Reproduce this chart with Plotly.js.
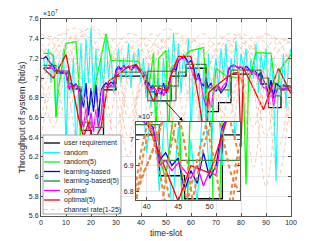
<!DOCTYPE html>
<html><head><meta charset="utf-8">
<script src="https://cdn.plot.ly/plotly-3.0.1.min.js"></script>
<style>html,body{margin:0;padding:0;background:#fff}#chart{width:321px;height:241px}</style>
</head><body><div id="chart"></div>
<script>
// time slots 1..100 (index axis)
var timeSlots = Array.from({length:100}, function(_, i){ return i + 1; });

// throughput values in units of 1e7 bit/s
var userRequirement = [
7.10,7.10,7.10,7.10,7.10,7.05,7.05,7.05,7.05,7.05,
6.89,6.89,6.89,6.89,6.89,6.47,6.47,6.47,6.47,6.42,
6.42,6.42,6.42,6.42,6.88,6.88,6.88,6.88,6.88,7.02,
7.02,7.02,7.02,7.02,7.02,7.02,7.02,7.02,7.02,7.02,
7.02,6.86,6.86,6.86,6.86,6.77,6.77,6.77,6.77,6.77,
6.77,7.02,7.02,7.02,7.02,7.02,7.02,7.10,7.10,7.10,
7.10,7.10,7.10,7.10,7.10,6.66,6.66,6.66,6.66,6.66,
6.75,6.75,6.75,6.75,6.75,7.04,7.04,7.04,7.04,7.04,
7.04,7.04,7.04,7.04,7.04,7.04,7.04,6.94,6.94,6.94,
6.70,6.70,6.70,6.70,6.70,6.88,6.88,6.88,6.88,6.88];

var randomRate = [
7.20,7.05,7.30,6.95,7.25,6.60,7.15,7.00,7.30,6.30,
7.10,6.85,7.20,6.20,6.90,7.35,6.70,7.40,6.95,7.51,
6.80,7.30,6.40,7.20,6.90,7.45,7.00,7.25,6.85,7.10,
7.30,6.95,7.20,7.00,7.35,6.90,7.25,7.05,7.30,6.95,
7.20,6.80,7.15,6.70,7.05,6.60,7.00,6.75,7.20,6.85,
7.30,6.90,7.46,7.00,7.35,6.85,7.25,7.05,7.40,6.40,
7.15,6.95,7.30,6.30,7.10,6.50,7.25,6.20,7.00,7.20,
6.90,7.30,7.00,7.35,6.80,7.20,7.05,7.38,6.95,7.25,
7.10,7.30,6.90,7.20,7.00,7.35,6.85,7.25,7.05,7.30,
6.80,7.20,6.90,5.95,7.10,6.85,7.25,6.70,7.15,7.30];

var random5Slots = [1,4,5,6,7,10,14,15,16,17,21,26,28,39,43,45,46,47,50,51,52,56,60,65,66,68,69,70,74,80,81,82,83,86,92,94,96,100];
var random5Rate  = [7.25,7.25,7.22,6.60,6.90,7.35,7.37,7.00,6.20,6.50,6.85,7.45,7.18,7.17,6.85,7.26,6.40,7.20,7.28,6.30,7.10,7.20,7.28,7.31,6.90,6.10,6.80,7.10,7.02,7.00,6.90,5.92,6.95,7.26,7.25,6.85,7.10,7.24];

var learningRate = [
7.20,7.22,7.18,7.15,7.12,7.06,7.08,7.05,7.07,7.04,
6.93,6.95,6.92,6.94,6.90,6.85,6.70,6.95,6.62,6.90,
6.66,6.93,6.60,6.88,6.92,6.95,6.93,6.96,6.94,7.08,
7.12,7.09,7.13,7.10,7.12,7.08,7.11,7.13,7.09,7.07,
7.05,6.92,6.95,6.90,6.93,6.80,6.88,6.83,6.95,6.85,
6.90,7.05,7.10,7.08,7.18,7.20,7.22,7.20,7.15,7.18,
7.12,6.98,7.05,6.95,6.92,6.98,6.90,6.95,6.88,6.87,
6.90,6.85,6.88,6.92,7.08,7.12,7.13,7.12,7.10,7.11,
7.09,7.12,7.10,7.05,7.08,7.06,7.02,7.06,6.98,6.92,
6.85,6.98,6.80,6.95,6.92,6.90,6.93,6.91,6.92,6.90];

var learning5Rate = [
7.13,7.13,7.13,7.13,7.13,7.07,7.07,7.07,7.07,7.07,
6.91,6.91,6.91,6.91,6.91,6.55,6.55,6.55,6.55,6.50,
6.50,6.50,6.50,6.50,6.91,6.91,6.91,6.91,6.91,7.06,
7.06,7.06,7.06,7.06,7.06,7.06,7.06,7.06,7.06,7.06,
7.06,6.92,6.92,6.92,6.92,6.92,6.92,6.92,6.92,6.92,
6.92,6.92,6.92,6.92,7.06,7.06,7.06,7.14,7.14,7.14,
7.14,7.14,7.14,7.14,7.14,6.90,6.90,6.90,6.90,6.90,
6.88,6.88,6.88,6.88,6.88,7.08,7.08,7.08,7.08,7.08,
7.08,7.08,7.08,7.08,7.08,7.08,7.08,7.00,7.00,7.00,
6.82,6.82,6.82,6.82,6.82,6.92,6.92,6.92,6.92,6.92];

var optimalRate = [
7.10,7.11,7.10,7.12,7.08,7.05,7.07,7.06,7.08,7.05,
6.90,6.92,6.91,6.93,6.90,6.60,6.50,6.70,6.48,6.65,
6.45,6.68,6.50,6.62,6.90,6.92,6.90,6.93,6.91,7.05,
7.10,7.08,7.12,7.10,7.12,7.09,7.10,7.12,7.08,7.06,
7.04,6.90,6.92,6.88,6.91,6.88,6.85,6.90,6.82,6.88,
6.86,7.04,7.10,7.12,7.18,7.20,7.20,7.18,7.15,7.10,
7.02,6.98,7.00,6.95,6.80,6.72,6.80,6.70,6.86,6.90,
6.92,6.88,6.93,6.95,7.10,7.12,7.13,7.12,7.11,7.12,
7.10,7.09,7.08,7.05,7.07,7.04,7.00,6.95,6.90,6.90,
6.75,6.92,6.72,6.85,6.90,6.88,6.90,6.89,6.90,6.88];

var optimal5Slots = [1,5,10,13,15,17,19,21,23,24,27,30,34,38,40,45,47,50,53,55,60,63,66,67,70,74,77,79,80,81,84,89,95,100];
var optimal5Rate  = [7.10,7.00,7.24,6.86,6.60,6.40,6.55,6.35,6.45,6.50,6.97,7.02,7.10,7.14,7.07,6.76,6.90,6.87,7.10,7.22,7.22,6.80,6.30,6.85,6.92,7.00,7.05,7.06,6.30,7.10,6.95,6.68,7.10,6.84];

var channelSlots = [0,5,10,15,20,25,30,35,40,45,50,55,60,65,70,75,80,85,90,95,100];
var channel1  = [6.9,7.3,7.48,7.5,7.35,7.0,6.3,7.0,7.35,7.45,7.3,6.9,6.2,6.9,7.3,7.45,7.4,7.1,6.4,7.0,7.3];
var channel2  = [7.3,7.1,6.6,7.0,7.3,7.42,7.35,7.05,6.5,7.1,7.38,7.45,7.3,6.9,6.1,6.9,7.3,7.42,7.35,7.05,6.6];
var channel3  = [6.4,7.0,7.3,7.42,7.4,7.2,6.8,6.2,7.0,7.3,7.4,7.3,7.0,6.4,7.0,7.3,7.45,7.35,6.9,6.0,6.9];
var channel4  = [7.45,7.35,7.0,6.3,7.0,7.3,7.4,7.35,7.1,6.6,7.05,7.3,7.4,7.3,6.95,6.2,7.0,7.3,7.44,7.38,7.1];
var channel5  = [7.0,6.5,7.1,7.38,7.52,7.45,7.2,6.7,6.9,7.25,7.4,7.35,7.1,6.5,6.9,7.2,7.35,7.3,7.0,6.3,7.0];
var channel6  = [7.2,7.4,7.45,7.3,6.9,6.1,6.9,7.25,7.4,7.35,7.0,6.3,7.0,7.3,7.42,7.38,7.1,6.5,7.1,7.35,7.4];
var channel7  = [6.8,7.15,7.35,7.45,7.5,7.4,7.15,6.6,6.9,7.2,7.32,7.2,6.8,7.0,7.25,7.38,7.3,6.9,5.9,6.8,7.2];
var channel8  = [7.35,7.2,6.9,7.15,7.3,7.25,6.95,6.4,7.05,7.35,7.5,7.44,7.25,6.8,7.1,7.35,7.42,7.2,6.7,7.1,7.3];
var channel9  = [7.1,7.3,7.32,7.1,6.5,7.0,7.3,7.45,7.4,7.1,6.4,7.0,7.35,7.45,7.3,6.9,6.3,7.0,7.3,7.4,7.35];
var channel10 = [6.6,7.05,7.25,7.3,7.2,6.9,7.2,7.38,7.3,6.95,6.1,6.95,7.25,7.35,7.25,6.8,7.1,7.35,7.45,7.3,6.9];
var channel11 = [7.4,7.42,7.3,7.0,6.4,7.0,7.25,7.3,7.15,6.7,7.1,7.35,7.4,7.25,6.8,6.6,7.15,7.3,7.2,6.9,6.5];
var channel12 = [7.0,7.25,7.4,7.38,7.2,6.7,6.5,7.05,7.28,7.35,7.2,6.8,6.9,7.2,7.35,7.3,7.0,6.1,7.0,7.28,7.38];
var channels = [channel1,channel2,channel3,channel4,channel5,channel6,channel7,channel8,channel9,channel10,channel11,channel12];

var legendNames = ['user requirement','random','random(5)','learning-based','learning-based(5)','optimal','optimal(5)','channel rate(1-25)'];
var mainTickVals = [5.6,5.8,6.0,6.2,6.4,6.6,6.8,7.0,7.2,7.4,7.6];
var mainTickText = ['5.6','5.8','6','6.2','6.4','6.6','6.8','7','7.2','7.4','7.6'];
var insetXTicks = [40,45,50];
var insetYTicks = [6.8,6.9,7.0];
var insetYText = ['6.8','6.9','7'];

var colors = ['#000000','#00FFFF','#00FF00','#0000FF','#238A3E','#FF00FF','#FF0000'];
var series = [
  {x: timeSlots, y: userRequirement, shape:'hv'},
  {x: timeSlots, y: randomRate, shape:'linear'},
  {x: random5Slots, y: random5Rate, shape:'linear'},
  {x: timeSlots, y: learningRate, shape:'linear'},
  {x: timeSlots, y: learning5Rate, shape:'hv'},
  {x: timeSlots, y: optimalRate, shape:'linear'},
  {x: optimal5Slots, y: optimal5Rate, shape:'linear'}
];

var traces = [];
function addAll(xa, ya, inset){
  series.forEach(function(s, i){
    traces.push({type:'scatter', mode:'lines', x:s.x, y:s.y, xaxis:xa, yaxis:ya,
      line:{color:colors[i], width: (i===1?1.1:1.3), shape:s.shape}, hoverinfo:'skip'});
  });
  channels.forEach(function(c){
    traces.push({type:'scatter', mode:'lines', x:channelSlots, y:c, xaxis:xa, yaxis:ya,
      line:{color: inset ? '#EA8544' : '#F6BC9E', width: inset ? 2 : 0.8, dash:'4px,3px', shape:'spline', smoothing:1},
      hoverinfo:'skip'});
  });
}
addAll('x','y',false);
addAll('x2','y2',true);

// legend (drawn manually to match compact spacing)
var shapes = [];
var annotations = [];
function px2x(px){ return (px-41)/250; }
function px2y(py){ return (216-py)/197; }
shapes.push({type:'rect', xref:'x2', yref:'y2', x0:38.3, x1:54.8, y0:6.765, y1:7.07, fillcolor:'#ffffff', line:{width:0}, layer:'below'});
shapes.push({type:'rect', xref:'x', yref:'y', x0:42.7, x1:54, y0:6.77, y1:7.07, line:{color:'#555555', width:1}, layer:'above'});
shapes.push({type:'rect', xref:'paper', yref:'paper', x0:px2x(43), x1:px2x(121), y0:px2y(214), y1:px2y(135), fillcolor:'#ffffff', line:{color:'#8c8c8c', width:0.8}, layer:'above'});
var legendY = [143,152.5,162,171.5,181,190.5,200,209.5];
legendNames.forEach(function(name, i){
  var yy = px2y(legendY[i]);
  var isCh = (i === 7);
  shapes.push({type:'line', xref:'paper', yref:'paper', x0:px2x(44), x1:px2x(60), y0:yy, y1:yy,
    line:{color: isCh ? '#F6BC9E' : colors[i], width: isCh ? 0.8 : 1.3, dash: isCh ? '4px,3px' : 'solid'}, layer:'above'});
  annotations.push({xref:'paper', yref:'paper', x:px2x(62), y:yy, xanchor:'left', yanchor:'middle', text:name,
    showarrow:false, font:{size:7, color:'#262626'}});
});
annotations.push({xref:'paper', yref:'paper', x:0, y:1, xanchor:'left', yanchor:'bottom', text:'×10<sup>7</sup>', showarrow:false, font:{size:7, color:'#262626'}});
annotations.push({xref:'paper', yref:'paper', x:0.38, y:0.477, xanchor:'left', yanchor:'bottom', text:'×10<sup>7</sup>', showarrow:false, font:{size:7, color:'#262626'}});
annotations.push({xref:'x', yref:'y', x:56.7, y:6.565, ax:-18, ay:-20, text:'', showarrow:true, arrowhead:2, arrowsize:0.9, arrowwidth:0.8, arrowcolor:'#000000'});

var axisCommon = {showline:true, linecolor:'#555555', linewidth:1, mirror:'ticks', ticks:'inside', ticklen:3, tickcolor:'#555555',
  showgrid:true, gridcolor:'#e8e8e8', zeroline:false, tickfont:{size:7, color:'#262626'}};

var layout = {
  width:321, height:241, margin:{l:41, r:30, t:19, b:25, pad:0},
  paper_bgcolor:'#ffffff', plot_bgcolor:'#ffffff', showlegend:false,
  font:{family:'Liberation Sans, Arial, sans-serif', size:7, color:'#262626'},
  xaxis: Object.assign({}, axisCommon, {domain:[0,1], range:[0,100], tickvals:[0,10,20,30,40,50,60,70,80,90,100], anchor:'y',
    title:{text:'time-slot', font:{size:8.5, color:'#262626'}, standoff:4}}),
  yaxis: Object.assign({}, axisCommon, {domain:[0,1], range:[5.6,7.6], tickvals:mainTickVals, ticktext:mainTickText, anchor:'x',
    title:{text:'Throughput of system (bit/s)', font:{size:9, color:'#262626'}, standoff:1}}),
  xaxis2: Object.assign({}, axisCommon, {domain:[0.38,0.796], range:[38.3,54.8], tickvals:insetXTicks, anchor:'y2'}),
  yaxis2: Object.assign({}, axisCommon, {domain:[0.081,0.477], range:[6.765,7.07], tickvals:insetYTicks, ticktext:insetYText, anchor:'x2'}),
  shapes: shapes,
  annotations: annotations
};
Plotly.newPlot('chart', traces, layout, {displayModeBar:false, staticPlot:true});
</script></body></html>
